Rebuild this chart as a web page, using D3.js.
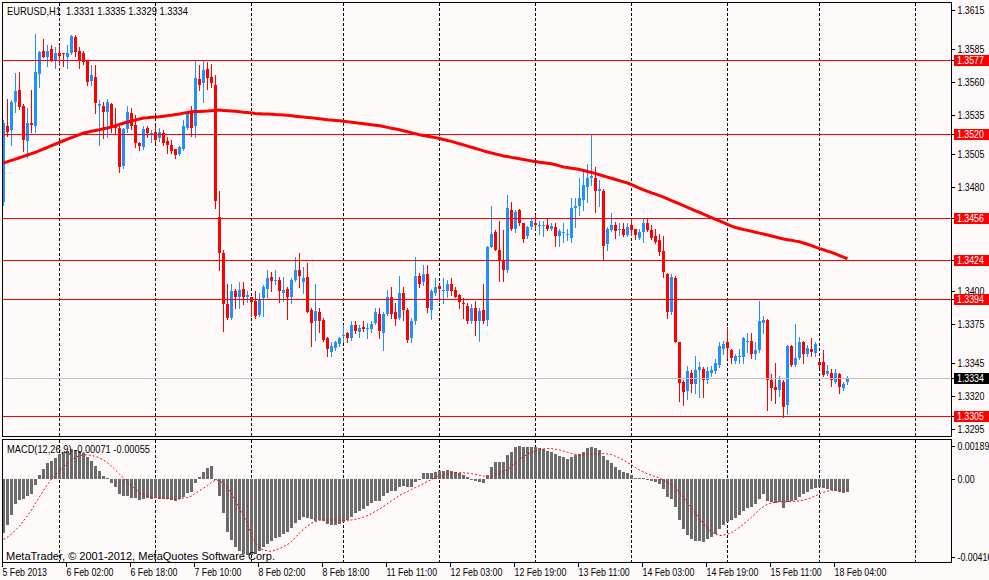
<!DOCTYPE html>
<html>
<head>
<meta charset="utf-8">
<title>EURUSD,H1</title>
<script src="https://cdn.jsdelivr.net/npm/d3@7"></script>
<style>
  body { margin: 0; background: #fffafa; }
  svg { display: block; }
  text { font-family: "Liberation Sans", Arial, sans-serif; font-size: 11px; }
</style>
</head>
<body>
<svg id="chart" width="989" height="580"></svg>
<script>
// EURUSD H1 bars, 5 Feb 2013 10:00 .. 18 Feb 2013 07:00
let open = [
  1.3468,1.3526,1.3523,1.3545,1.3554,1.3542,1.3515,1.3529,1.3526,1.3566,
  1.3584,1.3579,1.3585,1.3577,1.3582,1.3582,1.3579,1.3582,1.3594,1.3584,
  1.3582,1.3576,1.3561,1.3564,1.3542,1.3542,1.3537,1.3543,1.3527,1.3525,
  1.3496,1.3524,1.3536,1.3527,1.3513,1.3510,1.3525,1.3520,1.3522,1.3517,
  1.3521,1.3515,1.3512,1.3509,1.3505,1.3509,1.3525,1.3536,1.3526,1.3562,
  1.3559,1.3570,1.3564,1.3558,1.3457,1.3429,1.3390,1.3380,1.3400,1.3396,
  1.3402,1.3396,1.3396,1.3393,1.3382,1.3395,1.3402,1.3411,1.3408,1.3409,
  1.3399,1.3402,1.3396,1.3409,1.3416,1.3407,1.3411,1.3386,1.3377,1.3384,
  1.3378,1.3364,1.3354,1.3357,1.3360,1.3366,1.3368,1.3364,1.3374,1.3369,
  1.3373,1.3371,1.3371,1.3376,1.3383,1.3368,1.3383,1.3396,1.3384,1.3380,
  1.3399,1.3386,1.3364,1.3377,1.3412,1.3407,1.3413,1.3386,1.3399,1.3404,
  1.3400,1.3400,1.3406,1.3401,1.3397,1.3391,1.3389,1.3377,1.3387,1.3377,
  1.3386,1.3378,1.3434,1.3445,1.3432,1.3423,1.3416,1.3462,1.3448,1.3462,
  1.3452,1.3442,1.3449,1.3452,1.3450,1.3450,1.3451,1.3448,1.3449,1.3442,
  1.3445,1.3443,1.3441,1.3464,1.3465,1.3470,1.3480,1.3487,1.3487,1.3477,
  1.3477,1.3436,1.3447,1.3451,1.3447,1.3448,1.3443,1.3451,1.3448,1.3441,
  1.3445,1.3452,1.3447,1.3442,1.3439,1.3431,1.3413,1.3384,1.3410,1.3361,
  1.3331,1.3324,1.3338,1.3329,1.3340,1.3341,1.3332,1.3338,1.3339,1.3344,
  1.3356,1.3361,1.3355,1.3347,1.3350,1.3350,1.3361,1.3362,1.3352,1.3355,
  1.3376,1.3378,1.3332,1.3327,1.3325,1.3331,1.3313,1.3358,1.3344,1.3349,
  1.3361,1.3352,1.3356,1.3353,1.3346,1.3346,1.3337,1.3338,1.3331,1.3337,
  1.3326,1.3331
];
let high = [
  1.3531,1.3547,1.3546,1.3567,1.3568,1.3543,1.3540,1.3554,1.3597,1.3584,
  1.3593,1.3588,1.3588,1.3587,1.3588,1.3582,1.3588,1.3596,1.3596,1.3587,
  1.3584,1.3577,1.3573,1.3573,1.3546,1.3545,1.3547,1.3544,1.3540,1.3527,
  1.3525,1.3542,1.3540,1.3535,1.3514,1.3526,1.3526,1.3523,1.3526,1.3525,
  1.3523,1.3518,1.3516,1.3509,1.3511,1.3531,1.3538,1.3542,1.3577,1.3573,
  1.3576,1.3575,1.3574,1.3565,1.3477,1.3432,1.3406,1.3406,1.3402,1.3407,
  1.3407,1.3400,1.3396,1.3400,1.3399,1.3405,1.3416,1.3415,1.3416,1.3411,
  1.3411,1.3403,1.3410,1.3426,1.3429,1.3419,1.3422,1.3387,1.3406,1.3387,
  1.3380,1.3365,1.3361,1.3362,1.3365,1.3374,1.3369,1.3377,1.3377,1.3374,
  1.3377,1.3376,1.3377,1.3387,1.3387,1.3384,1.3401,1.3403,1.3391,1.3412,
  1.3403,1.3387,1.3380,1.3426,1.3414,1.3420,1.3420,1.3402,1.3410,1.3406,
  1.3410,1.3409,1.3410,1.3403,1.3398,1.3395,1.3391,1.3390,1.3393,1.3387,
  1.3406,1.3435,1.3465,1.3447,1.3454,1.3447,1.3474,1.3468,1.3462,1.3463,
  1.3452,1.3450,1.3456,1.3458,1.3454,1.3454,1.3455,1.3452,1.3452,1.3448,
  1.3452,1.3448,1.3471,1.3471,1.3487,1.3493,1.3497,1.3520,1.3495,1.3485,
  1.3478,1.3449,1.3460,1.3453,1.3452,1.3452,1.3452,1.3455,1.3448,1.3448,
  1.3455,1.3456,1.3451,1.3448,1.3444,1.3442,1.3414,1.3413,1.3412,1.3361,
  1.3332,1.3343,1.3340,1.3351,1.3346,1.3342,1.3342,1.3343,1.3348,1.3361,
  1.3362,1.3373,1.3356,1.3352,1.3356,1.3365,1.3368,1.3368,1.3361,1.3393,
  1.3381,1.3379,1.3337,1.3345,1.3335,1.3332,1.3359,1.3359,1.3375,1.3365,
  1.3362,1.3359,1.3364,1.3361,1.3347,1.3355,1.3344,1.3341,1.3341,1.3338,
  1.3331,1.3335
];
let low = [
  1.3466,1.3519,1.3512,1.3537,1.3539,1.3507,1.3503,1.3522,1.3522,1.3556,
  1.3579,1.3572,1.3576,1.3571,1.3573,1.3572,1.3571,1.3581,1.3580,1.3571,
  1.3574,1.3558,1.3558,1.3536,1.3512,1.3517,1.3518,1.3522,1.3520,1.3491,
  1.3494,1.3522,1.3524,1.3510,1.3508,1.3509,1.3518,1.3514,1.3514,1.3515,
  1.3512,1.3506,1.3506,1.3502,1.3504,1.3508,1.3524,1.3519,1.3518,1.3554,
  1.3545,1.3555,1.3556,1.3464,1.3416,1.3370,1.3379,1.3379,1.3387,1.3387,
  1.3390,1.3392,1.3381,1.3380,1.3381,1.3381,1.3396,1.3400,1.3406,1.3392,
  1.3393,1.3379,1.3391,1.3408,1.3403,1.3399,1.3384,1.3358,1.3363,1.3369,
  1.3362,1.3351,1.3351,1.3355,1.3358,1.3361,1.3361,1.3363,1.3368,1.3365,
  1.3370,1.3364,1.3369,1.3375,1.3364,1.3355,1.3382,1.3380,1.3374,1.3379,
  1.3378,1.3361,1.3361,1.3375,1.3403,1.3405,1.3384,1.3379,1.3397,1.3393,
  1.3391,1.3396,1.3397,1.3396,1.3387,1.3380,1.3376,1.3376,1.3367,1.3362,
  1.3376,1.3374,1.3434,1.3432,1.3408,1.3408,1.3415,1.3447,1.3445,1.3451,
  1.3438,1.3441,1.3448,1.3448,1.3444,1.3442,1.3447,1.3447,1.3435,1.3435,
  1.3438,1.3439,1.3438,1.3449,1.3458,1.3462,1.3468,1.3481,1.3461,1.3465,
  1.3424,1.3432,1.3446,1.3441,1.3443,1.3442,1.3442,1.3443,1.3440,1.3440,
  1.3438,1.3446,1.3440,1.3437,1.3428,1.3411,1.3380,1.3383,1.3361,1.3316,
  1.3313,1.3318,1.3323,1.3322,1.3319,1.3319,1.3330,1.3335,1.3338,1.3342,
  1.3352,1.3349,1.3345,1.3345,1.3345,1.3345,1.3354,1.3349,1.3348,1.3354,
  1.3368,1.3309,1.3317,1.3315,1.3320,1.3304,1.3306,1.3343,1.3343,1.3348,
  1.3345,1.3351,1.3351,1.3351,1.3342,1.3335,1.3336,1.3328,1.3330,1.3322,
  1.3325,1.3329
];
let close = [
  1.3529,1.3522,1.3545,1.3553,1.3541,1.3516,1.3529,1.3527,1.3568,1.3583,
  1.3579,1.3584,1.3577,1.3582,1.3580,1.3581,1.3582,1.3595,1.3583,1.3577,
  1.3575,1.3560,1.3565,1.3544,1.3543,1.3537,1.3545,1.3526,1.3525,1.3495,
  1.3524,1.3537,1.3526,1.3513,1.3511,1.3524,1.3521,1.3521,1.3516,1.3522,
  1.3513,1.3512,1.3507,1.3504,1.3510,1.3526,1.3536,1.3525,1.3563,1.3558,
  1.3569,1.3563,1.3559,1.3469,1.3429,1.3390,1.3380,1.3400,1.3396,1.3401,
  1.3396,1.3397,1.3392,1.3381,1.3394,1.3403,1.3410,1.3408,1.3409,1.3400,
  1.3401,1.3396,1.3409,1.3416,1.3412,1.3410,1.3384,1.3376,1.3385,1.3377,
  1.3363,1.3356,1.3358,1.3361,1.3364,1.3367,1.3364,1.3374,1.3370,1.3372,
  1.3371,1.3372,1.3375,1.3384,1.3370,1.3383,1.3396,1.3383,1.3379,1.3399,
  1.3386,1.3363,1.3377,1.3412,1.3406,1.3413,1.3387,1.3400,1.3403,1.3402,
  1.3401,1.3406,1.3400,1.3396,1.3392,1.3390,1.3377,1.3387,1.3377,1.3385,
  1.3377,1.3434,1.3444,1.3432,1.3423,1.3416,1.3464,1.3448,1.3461,1.3452,
  1.3440,1.3449,1.3454,1.3451,1.3451,1.3451,1.3448,1.3450,1.3442,1.3446,
  1.3445,1.3444,1.3464,1.3465,1.3471,1.3481,1.3487,1.3488,1.3477,1.3478,
  1.3435,1.3448,1.3451,1.3446,1.3448,1.3443,1.3449,1.3447,1.3443,1.3445,
  1.3452,1.3447,1.3441,1.3438,1.3430,1.3415,1.3384,1.3411,1.3361,1.3330,
  1.3323,1.3339,1.3329,1.3340,1.3342,1.3332,1.3339,1.3340,1.3345,1.3358,
  1.3360,1.3357,1.3349,1.3351,1.3351,1.3364,1.3362,1.3352,1.3355,1.3377,
  1.3378,1.3332,1.3326,1.3325,1.3332,1.3312,1.3358,1.3344,1.3349,1.3361,
  1.3352,1.3357,1.3354,1.3360,1.3344,1.3336,1.3339,1.3332,1.3338,1.3327,
  1.3329,1.3334
];
// moving average drawn on price
let movingAvg = [
  1.34981,1.34991,1.35001,1.35011,1.35021,1.35032,1.35042,1.35052,1.35063,1.35076,
  1.35088,1.35101,1.35114,1.35126,1.35139,1.35151,1.35163,1.35175,1.35186,1.35198,
  1.35210,1.35216,1.35223,1.35229,1.35235,1.35242,1.35248,1.35257,1.35266,1.35276,
  1.35285,1.35294,1.35302,1.35309,1.35317,1.35325,1.35327,1.35330,1.35332,1.35335,
  1.35339,1.35343,1.35346,1.35351,1.35356,1.35362,1.35367,1.35372,1.35374,1.35375,
  1.35377,1.35378,1.35381,1.35384,1.35385,1.35383,1.35381,1.35379,1.35376,1.35373,
  1.35369,1.35366,1.35363,1.35360,1.35358,1.35356,1.35355,1.35353,1.35351,1.35350,
  1.35348,1.35345,1.35342,1.35338,1.35335,1.35332,1.35329,1.35326,1.35322,1.35319,
  1.35316,1.35311,1.35309,1.35306,1.35303,1.35300,1.35297,1.35293,1.35289,1.35285,
  1.35281,1.35277,1.35273,1.35269,1.35265,1.35260,1.35253,1.35247,1.35241,1.35235,
  1.35227,1.35220,1.35212,1.35205,1.35197,1.35191,1.35185,1.35180,1.35175,1.35168,
  1.35161,1.35153,1.35146,1.35137,1.35128,1.35119,1.35110,1.35101,1.35092,1.35083,
  1.35074,1.35065,1.35058,1.35050,1.35043,1.35035,1.35030,1.35024,1.35019,1.35013,
  1.35008,1.35002,1.34997,1.34992,1.34987,1.34983,1.34979,1.34975,1.34968,1.34959,
  1.34950,1.34946,1.34941,1.34937,1.34931,1.34924,1.34916,1.34909,1.34900,1.34891,
  1.34882,1.34873,1.34864,1.34855,1.34846,1.34837,1.34828,1.34815,1.34802,1.34788,
  1.34775,1.34764,1.34753,1.34743,1.34732,1.34720,1.34707,1.34694,1.34681,1.34668,
  1.34655,1.34642,1.34629,1.34616,1.34603,1.34590,1.34577,1.34564,1.34551,1.34538,
  1.34525,1.34512,1.34499,1.34488,1.34481,1.34473,1.34466,1.34459,1.34452,1.34445,
  1.34438,1.34431,1.34423,1.34415,1.34408,1.34400,1.34395,1.34390,1.34384,1.34379,
  1.34370,1.34360,1.34349,1.34338,1.34327,1.34318,1.34308,1.34298,1.34287,1.34274,
  1.34261,1.34248
];
// MACD(12,26,9): main histogram and signal line
let macdMain = [
  -0.00283,-0.00242,-0.00190,-0.00132,-0.00111,-0.00106,-0.00088,-0.00079,-0.00032,0.00021,
  0.00052,0.00082,0.00094,0.00112,0.00131,0.00143,0.00148,0.00156,0.00152,0.00148,
  0.00138,0.00117,0.00096,0.00069,0.00043,0.00015,0.00006,-0.00023,-0.00041,-0.00081,
  -0.00090,-0.00090,-0.00099,-0.00102,-0.00113,-0.00106,-0.00102,-0.00106,-0.00102,-0.00106,
  -0.00106,-0.00106,-0.00111,-0.00115,-0.00106,-0.00094,-0.00076,-0.00067,-0.00020,0.00012,
  0.00038,0.00059,0.00069,-0.00006,-0.00090,-0.00181,-0.00278,-0.00321,-0.00357,-0.00378,
  -0.00395,-0.00400,-0.00400,-0.00395,-0.00378,-0.00357,-0.00344,-0.00327,-0.00312,-0.00304,
  -0.00290,-0.00278,-0.00257,-0.00234,-0.00216,-0.00202,-0.00207,-0.00213,-0.00220,-0.00216,
  -0.00221,-0.00239,-0.00242,-0.00242,-0.00237,-0.00228,-0.00216,-0.00199,-0.00181,-0.00169,
  -0.00158,-0.00143,-0.00128,-0.00115,-0.00115,-0.00090,-0.00073,-0.00064,-0.00062,-0.00041,
  -0.00036,-0.00041,-0.00041,-0.00015,-0.00001,0.00033,0.00029,0.00033,0.00035,0.00042,
  0.00043,0.00047,0.00043,0.00038,0.00029,0.00021,0.00008,-0.00002,-0.00009,-0.00015,
  -0.00023,0.00019,0.00064,0.00087,0.00090,0.00090,0.00126,0.00143,0.00169,0.00173,
  0.00169,0.00169,0.00169,0.00169,0.00161,0.00156,0.00148,0.00143,0.00131,0.00120,
  0.00114,0.00105,0.00117,0.00126,0.00131,0.00143,0.00161,0.00169,0.00164,0.00152,
  0.00122,0.00099,0.00082,0.00061,0.00047,0.00035,0.00029,0.00021,0.00006,0.00003,
  0.00003,-0.00001,-0.00009,-0.00015,-0.00028,-0.00053,-0.00097,-0.00106,-0.00146,-0.00216,
  -0.00265,-0.00295,-0.00318,-0.00325,-0.00327,-0.00330,-0.00318,-0.00304,-0.00290,-0.00264,
  -0.00242,-0.00225,-0.00216,-0.00207,-0.00190,-0.00169,-0.00155,-0.00146,-0.00132,-0.00107,
  -0.00079,-0.00115,-0.00120,-0.00125,-0.00123,-0.00151,-0.00120,-0.00116,-0.00111,-0.00094,
  -0.00079,-0.00067,-0.00055,-0.00049,-0.00044,-0.00049,-0.00055,-0.00058,-0.00062,-0.00070,
  -0.00074,-0.00071
];
let macdSignal = [
  -0.00318,-0.00306,-0.00290,-0.00269,-0.00248,-0.00221,-0.00194,-0.00164,-0.00128,-0.00094,
  -0.00061,-0.00029,0.00000,0.00021,0.00042,0.00063,0.00084,0.00102,0.00113,0.00123,
  0.00126,0.00126,0.00124,0.00118,0.00110,0.00099,0.00085,0.00068,0.00047,0.00026,
  0.00005,-0.00016,-0.00036,-0.00053,-0.00072,-0.00082,-0.00090,-0.00097,-0.00099,-0.00101,
  -0.00103,-0.00105,-0.00106,-0.00106,-0.00106,-0.00100,-0.00097,-0.00090,-0.00074,-0.00062,
  -0.00048,-0.00035,-0.00019,-0.00006,-0.00008,-0.00027,-0.00048,-0.00077,-0.00114,-0.00156,
  -0.00193,-0.00237,-0.00298,-0.00335,-0.00363,-0.00374,-0.00379,-0.00381,-0.00374,-0.00367,
  -0.00356,-0.00345,-0.00330,-0.00307,-0.00284,-0.00265,-0.00248,-0.00232,-0.00225,-0.00218,
  -0.00216,-0.00216,-0.00216,-0.00216,-0.00217,-0.00218,-0.00220,-0.00216,-0.00212,-0.00208,
  -0.00201,-0.00193,-0.00183,-0.00170,-0.00158,-0.00144,-0.00130,-0.00116,-0.00102,-0.00087,
  -0.00077,-0.00066,-0.00056,-0.00045,-0.00035,-0.00024,-0.00014,-0.00003,0.00007,0.00018,
  0.00024,0.00029,0.00033,0.00033,0.00033,0.00032,0.00031,0.00028,0.00024,0.00019,
  0.00015,0.00013,0.00013,0.00022,0.00031,0.00040,0.00050,0.00064,0.00084,0.00103,
  0.00117,0.00129,0.00140,0.00148,0.00155,0.00158,0.00160,0.00160,0.00156,0.00153,
  0.00147,0.00140,0.00134,0.00130,0.00126,0.00127,0.00129,0.00131,0.00133,0.00134,
  0.00133,0.00131,0.00129,0.00119,0.00110,0.00099,0.00086,0.00074,0.00060,0.00047,
  0.00036,0.00027,0.00019,0.00012,0.00005,-0.00007,-0.00018,-0.00028,-0.00049,-0.00070,
  -0.00097,-0.00125,-0.00153,-0.00181,-0.00209,-0.00235,-0.00259,-0.00280,-0.00290,-0.00298,
  -0.00296,-0.00290,-0.00283,-0.00269,-0.00255,-0.00237,-0.00220,-0.00202,-0.00181,-0.00160,
  -0.00146,-0.00134,-0.00125,-0.00123,-0.00120,-0.00120,-0.00120,-0.00119,-0.00117,-0.00115,
  -0.00111,-0.00106,-0.00099,-0.00089,-0.00078,-0.00070,-0.00064,-0.00060,-0.00058,-0.00058,
  -0.00057,-0.00055
];

let priceTicks = [1.3615, 1.3585, 1.3560, 1.3535, 1.3505, 1.3480, 1.3400, 1.3375, 1.3345, 1.3320, 1.3295];
let levels = [1.3577, 1.3520, 1.3456, 1.3424, 1.3394, 1.3305];
let bid = 1.3334;
let macdTicks = [0.00189, 0, -0.00416];
let macdTickLabels = ['0.00189', '0.00', '-0.00416'];
let timeTickBars = [0, 16, 32, 48, 64, 80, 96, 112, 128, 144, 160, 176, 192, 208];
let timeLabels = ['5 Feb 2013', '6 Feb 02:00', '6 Feb 18:00', '7 Feb 10:00', '8 Feb 02:00', '8 Feb 18:00',
  '11 Feb 11:00', '12 Feb 03:00', '12 Feb 19:00', '13 Feb 11:00', '14 Feb 03:00', '14 Feb 19:00',
  '15 Feb 11:00', '18 Feb 04:00'];
let dayStartBars = [14, 38, 62, 85, 109, 133, 157, 181, 204, 228];

let width = 989;
let height = 580;
let bull = '#1e90ff';
let bear = '#ff0000';
let narrow = 0.8;   // squeeze the sans font to the terminal's narrow look
let panel = { left: 2.5, right: 951.5, top: 2.5, bottom: 436.5, subTop: 439.5, subBottom: 562.5 };

let svg = d3.select('#chart');
let x = d3.scaleLinear().domain([0, 237]).range([3.5, 951.5]);
let y = d3.scaleLinear().domain([1.3295, 1.3615]).range([428.8, 10]);
let ym = d3.scaleLinear().domain([-0.00416, 0.00189]).range([558, 443]);
let snap = v => Math.round(v) + 0.5;

svg.append('rect').attr('width', width).attr('height', height).attr('fill', '#fffafa');

// day separators in both windows
let grid = svg.append('g').attr('shape-rendering', 'crispEdges')
  .attr('stroke', '#000').attr('stroke-dasharray', '3,2');
[[panel.top, panel.bottom], [panel.subTop, panel.subBottom]].forEach(function (span) {
  grid.append('g').selectAll('line')
    .data(dayStartBars)
    .join('line')
    .attr('x1', d => x(d)).attr('x2', d => x(d))
    .attr('y1', span[0]).attr('y2', span[1]);
});

// candles
let bars = close.map((c, i) => ({ i: i, o: open[i], h: high[i], l: low[i], c: c }));
let colour = d => d.c >= d.o ? bull : bear;
let candles = svg.append('g').attr('shape-rendering', 'crispEdges');
candles.append('g').selectAll('line')
  .data(bars)
  .join('line')
  .attr('x1', d => x(d.i)).attr('x2', d => x(d.i))
  .attr('y1', d => Math.round(y(d.h))).attr('y2', d => Math.round(y(d.l)) + 1)
  .attr('stroke', colour);
candles.append('g').selectAll('rect')
  .data(bars)
  .join('rect')
  .attr('x', d => x(d.i) - 1.5)
  .attr('width', 3)
  .attr('y', d => Math.round(y(Math.max(d.o, d.c))))
  .attr('height', d => Math.max(1, Math.round(y(Math.min(d.o, d.c))) - Math.round(y(Math.max(d.o, d.c)))))
  .attr('fill', colour);

// horizontal lines
let hlines = svg.append('g').attr('shape-rendering', 'crispEdges');
hlines.append('line')
  .attr('x1', panel.left).attr('x2', panel.right)
  .attr('y1', snap(y(bid))).attr('y2', snap(y(bid)))
  .attr('stroke', '#c0c0c0');
hlines.selectAll('line.level')
  .data(levels)
  .join('line')
  .attr('class', 'level')
  .attr('x1', panel.left).attr('x2', panel.right)
  .attr('y1', d => snap(y(d))).attr('y2', d => snap(y(d)))
  .attr('stroke', '#ff0000');

// moving average
svg.append('path')
  .datum(movingAvg)
  .attr('fill', 'none')
  .attr('stroke', '#ff0000')
  .attr('stroke-width', 3)
  .attr('d', d3.line().x((d, i) => x(i)).y(d => y(d)));

// MACD histogram + signal
let zero = Math.round(ym(0));
svg.append('g').attr('shape-rendering', 'crispEdges')
  .selectAll('rect')
  .data(macdMain)
  .join('rect')
  .attr('x', (d, i) => x(i) - 1.5)
  .attr('width', 3)
  .attr('y', d => Math.min(zero, Math.round(ym(d))))
  .attr('height', d => Math.max(1, Math.abs(Math.round(ym(d)) - zero)))
  .attr('fill', '#6b6b6b');

svg.append('path')
  .datum(macdSignal)
  .attr('fill', 'none')
  .attr('stroke', '#ff0000')
  .attr('stroke-dasharray', '2,2')
  .attr('d', d3.line().x((d, i) => x(i)).y(d => ym(d)));

// window frames
let frames = svg.append('g').attr('fill', 'none').attr('stroke', '#000').attr('shape-rendering', 'crispEdges');
frames.append('rect').attr('x', panel.left).attr('y', panel.top)
  .attr('width', panel.right - panel.left).attr('height', panel.bottom - panel.top);
frames.append('rect').attr('x', panel.left).attr('y', panel.subTop)
  .attr('width', panel.right - panel.left).attr('height', panel.subBottom - panel.subTop);

// price scale
let priceAxis = svg.append('g')
  .attr('transform', `translate(${panel.right},0)`)
  .call(d3.axisRight(y).tickValues(priceTicks).tickFormat(d3.format('.4f')).tickSize(3).tickPadding(3));
priceAxis.select('.domain').remove();

let tags = svg.append('g');
function priceTag(v, fill) {
  let yy = Math.round(y(v));
  tags.append('line').attr('x1', panel.right).attr('x2', 955).attr('y1', yy + 0.5).attr('y2', yy + 0.5)
    .attr('stroke', '#000').attr('shape-rendering', 'crispEdges');
  tags.append('rect').attr('x', 954).attr('y', yy - 5).attr('width', 35).attr('height', 11).attr('fill', fill);
  tags.append('text').attr('x', 957).attr('y', yy + 4).attr('fill', '#fff').text(d3.format('.4f')(v));
}
levels.forEach(v => priceTag(v, '#ff0000'));
priceTag(bid, '#000');

// MACD scale
let macdAxis = svg.append('g')
  .attr('transform', `translate(${panel.right},0)`)
  .call(d3.axisRight(ym).tickValues(macdTicks).tickFormat((d, i) => macdTickLabels[i]).tickSize(3).tickPadding(3));
macdAxis.select('.domain').remove();
macdAxis.selectAll('.tick').attr('transform', d => `translate(0,${Math.min(557, Math.max(446, ym(d))) + 0.5})`);

// time scale
let timeAxis = svg.append('g')
  .attr('transform', `translate(-1.5,${panel.subBottom})`)
  .call(d3.axisBottom(x).tickValues(timeTickBars).tickFormat((d, i) => timeLabels[i]).tickSize(4).tickPadding(2));
timeAxis.select('.domain').remove();
timeAxis.selectAll('text').attr('text-anchor', 'start').attr('x', 0);

svg.selectAll('.tick line').attr('stroke', '#000').attr('shape-rendering', 'crispEdges');
svg.selectAll('.tick text').attr('fill', '#000');
svg.selectAll('g[font-family]').attr('font-family', null).attr('font-size', null);

// squeeze every scale label horizontally around its anchor
svg.selectAll('text').each(function () {
  let t = d3.select(this);
  let tx = +t.attr('x') || 0;
  t.attr('x', 0).attr('transform', `translate(${tx},0) scale(${narrow},1)`);
});

// captions
function caption(px, py, str, len) {
  svg.append('text').attr('x', px).attr('y', py)
    .attr('xml:space', 'preserve')
    .attr('textLength', len).attr('lengthAdjust', 'spacingAndGlyphs')
    .text(str);
}
caption(7, 15, 'EURUSD,H1  1.3331 1.3335 1.3329 1.3334', 181);
caption(7, 453, 'MACD(12,26,9) -0.00071 -0.00055', 143);
caption(6, 560, 'MetaTrader, © 2001-2012, MetaQuotes Software Corp.', 269);
</script>
</body>
</html>
